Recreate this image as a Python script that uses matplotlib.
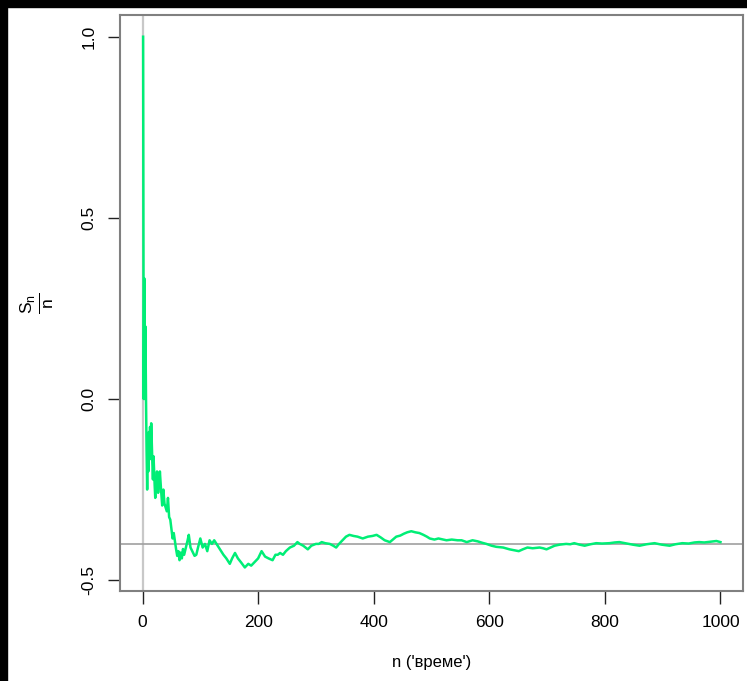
"""Running mean S_n / n of a +-1 random walk, settling near -0.4."""
import matplotlib
matplotlib.use("Agg")
import matplotlib.pyplot as plt
from matplotlib.patches import Rectangle

GREEN, BOX, INK = "#00EE76", "#808080", "#222222"
plt.rcParams["font.family"] = ["Liberation Sans", "DejaVu Sans"]
plt.rcParams["mathtext.fontset"] = "custom"
plt.rcParams["mathtext.rm"] = "Liberation Sans"

# values
n_vals = [1, 2, 3, 4, 5, 6, 7, 8, 9, 10, 11, 12, 13, 14, 15, 16, 17, 18, 19, 20,
          21, 22, 23, 24, 25, 26, 27, 28, 29, 30, 32, 34, 36, 38, 40, 42, 44, 46,
          48, 50, 52, 54, 56, 58, 60, 62, 64, 66, 68, 70, 72, 75, 78, 80, 83, 86,
          90, 93, 96, 100, 104, 108, 112, 116, 120, 124, 128, 132, 136, 140, 145,
          151, 155, 160, 165, 170, 177, 183, 188, 194, 200, 206, 212, 218, 225,
          230, 234, 238, 243, 248, 255, 262, 268, 272, 278, 286, 292, 300, 305,
          310, 316, 324, 330, 335, 340, 346, 352, 358, 365, 372, 381, 390, 398,
          405, 412, 419, 428, 434, 439, 446, 452, 458, 465, 472, 479, 486, 492,
          497, 505, 512, 520, 526, 535, 545, 552, 561, 571, 580, 588, 595, 604,
          612, 624, 635, 645, 651, 658, 666, 675, 687, 693, 699, 706, 713, 722,
          733, 740, 747, 756, 765, 775, 785, 795, 808, 817, 825, 835, 848, 860,
          872, 886, 898, 912, 922, 934, 945, 955, 963, 972, 982, 993, 1000]
mean_vals = [1.0, 0.0, 0.333, 0.0, 0.2, 0.0, -0.143, -0.25, -0.111, -0.2, -0.091,
             -0.167, -0.077, -0.143, -0.067, -0.125, -0.176, -0.222, -0.158, -0.2,
             -0.238, -0.273, -0.217, -0.25, -0.2, -0.231, -0.259, -0.214, -0.241,
             -0.2, -0.25, -0.294, -0.25, -0.289, -0.3, -0.31, -0.273, -0.326,
             -0.333, -0.36, -0.385, -0.37, -0.393, -0.414, -0.433, -0.42, -0.445,
             -0.424, -0.44, -0.414, -0.43, -0.41, -0.39, -0.375, -0.41, -0.42,
             -0.433, -0.43, -0.41, -0.385, -0.41, -0.4, -0.42, -0.39, -0.4, -0.39,
             -0.4, -0.41, -0.42, -0.43, -0.44, -0.455, -0.44, -0.425, -0.44, -0.45,
             -0.465, -0.455, -0.46, -0.45, -0.44, -0.42, -0.435, -0.44, -0.445,
             -0.43, -0.43, -0.425, -0.43, -0.42, -0.41, -0.405, -0.395, -0.4,
             -0.405, -0.415, -0.405, -0.4, -0.4, -0.395, -0.398, -0.4, -0.405,
             -0.41, -0.4, -0.39, -0.38, -0.375, -0.378, -0.38, -0.385, -0.38,
             -0.378, -0.375, -0.382, -0.39, -0.395, -0.387, -0.38, -0.377, -0.372,
             -0.368, -0.365, -0.368, -0.37, -0.375, -0.38, -0.385, -0.388, -0.385,
             -0.388, -0.39, -0.388, -0.39, -0.39, -0.395, -0.39, -0.393, -0.397,
             -0.4, -0.405, -0.408, -0.41, -0.415, -0.418, -0.42, -0.415, -0.41,
             -0.412, -0.41, -0.412, -0.415, -0.41, -0.405, -0.402, -0.4, -0.401,
             -0.398, -0.402, -0.405, -0.401, -0.398, -0.399, -0.398, -0.396,
             -0.395, -0.398, -0.402, -0.405, -0.401, -0.398, -0.402, -0.405,
             -0.401, -0.398, -0.399, -0.396, -0.395, -0.396, -0.394, -0.392, -0.395]
x_ticks = [0, 200, 400, 600, 800, 1000]
y_ticks = [-0.5, 0.0, 0.5, 1.0]
limit_mean = -0.4

fig = plt.figure(figsize=(7.47, 6.81), dpi=100)
fig.patch.set_facecolor("white")
# black frame strips at the top and left edge of the screenshot
fig.add_artist(Rectangle((0, 1 - 7 / 681), 1, 7 / 681, transform=fig.transFigure,
                         color="black", zorder=0))
fig.add_artist(Rectangle((0, 0), 7 / 747, 1, transform=fig.transFigure,
                         color="black", zorder=0))

ax = fig.add_axes([120 / 747, 90 / 681, 623 / 747, 576 / 681])
ax.axvline(0, color="#c8c8c8", lw=1.6, zorder=1)
ax.axhline(limit_mean, color="#a0a0a0", lw=1.2, zorder=1)
ax.plot(n_vals, mean_vals, color=GREEN, lw=1.8, zorder=2)

ax.set_xlim(-39, 1039)
ax.set_ylim(-0.53, 1.06)
ax.set_xticks(x_ticks)
ax.set_yticks(y_ticks)
ax.set_yticklabels(["-0.5", "0.0", "0.5", "1.0"], rotation=90, va="center")
ax.tick_params(colors=INK, labelcolor="black", labelsize=12.5, length=9, width=1,
               pad=8)
for s in ax.spines.values():
    s.set_color(BOX); s.set_linewidth(1.5)

ax.set_xlabel("n ('време')", fontsize=12, labelpad=18)
ax.set_ylabel(r"$\frac{\mathrm{S_n}}{\mathrm{n}}$", fontsize=18, labelpad=18)

fig.savefig("out.png", dpi=100)
print("ok")
